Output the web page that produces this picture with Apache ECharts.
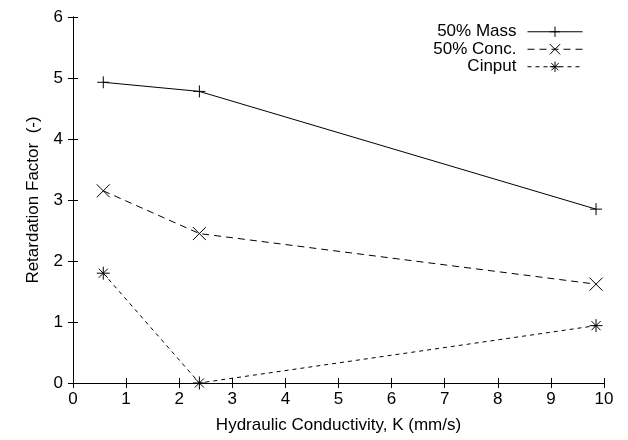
<!DOCTYPE html>
<html><head><meta charset="utf-8">
<script src="https://cdn.jsdelivr.net/npm/echarts@6/dist/echarts.min.js"></script>
<style>html,body{margin:0;padding:0;background:#fff}#c{width:628px;height:440px}</style>
</head><body><div id="c"></div>
<script>
const kValues = [0.57, 2.38, 9.85];
const massValues = [4.93, 4.78, 2.85];
const concValues = [3.15, 2.45, 1.62];
const cinputValues = [1.8, 0.0, 0.94];
const seriesNames = ['50% Mass', '50% Conc.', 'Cinput'];
const xTitle = 'Hydraulic Conductivity, K (mm/s)';
const yTitle = 'Retardation Factor  (-)';

const plusPath = 'path://M0,5L10,5M5,0L5,10';
const crossPath = 'path://M0,0L10,10M0,10L10,0';
const starPath = 'path://M0,5L10,5M5,0L5,10M1.5,1.5L8.5,8.5M1.5,8.5L8.5,1.5';

function pairs(ys){ return kValues.map((x,i)=>[x, ys[i]]); }
const font = 'Liberation Sans, Arial, sans-serif';
const fs = 17;

function mkSeries(name, ys, sym, size, dash){
  return {
    name, type:'line', data:pairs(ys), symbol:sym, symbolSize:size,
    lineStyle:{color:'#000', width:1, type:dash},
    itemStyle:{color:'none', borderColor:'#000', borderWidth:1},
    emphasis:{disabled:true}, animation:false
  };
}

const tick = {show:true, inside:true, length:5, lineStyle:{color:'#000', width:1}};
const chart = echarts.init(document.getElementById('c'), null, {renderer:'canvas'});
chart.setOption({
  backgroundColor:'#fff',
  animation:false,
  grid:{left:73, right:24, top:17, bottom:57},
  legend:{
    right:45, top:23, orient:'vertical', align:'right', padding:0,
    itemWidth:55, itemHeight:13, itemGap:0,
    lineStyle:{width:1},
    itemStyle:{borderWidth:1},
    textStyle:{fontFamily:font, fontSize:fs, color:'#000', lineHeight:17.5, padding:[0,6,0,0]},
    data:seriesNames
  },
  xAxis:[{
    type:'value', min:0, max:10, interval:1,
    name:xTitle, nameLocation:'middle', nameGap:34,
    nameTextStyle:{fontFamily:font, fontSize:fs, color:'#000'},
    axisLine:{lineStyle:{color:'#000', width:1}},
    axisTick:tick,
    axisLabel:{fontFamily:font, fontSize:fs, color:'#000', margin:8},
    splitLine:{show:false}
  },{
    type:'value', min:0, max:10, interval:1, position:'top',
    axisLine:{show:true, lineStyle:{color:'#000', width:1}},
    axisTick:tick,
    axisLabel:{show:false}, splitLine:{show:false}
  }],
  yAxis:[{
    type:'value', min:0, max:6, interval:1,
    name:yTitle, nameLocation:'middle', nameGap:31, nameRotate:90,
    nameTextStyle:{fontFamily:font, fontSize:fs, color:'#000'},
    axisLine:{show:true, lineStyle:{color:'#000', width:1}},
    axisTick:tick,
    axisLabel:{fontFamily:font, fontSize:fs, color:'#000', margin:10},
    splitLine:{show:false}
  },{
    type:'value', min:0, max:6, interval:1, position:'right',
    axisLine:{show:true, lineStyle:{color:'#000', width:1}},
    axisTick:tick,
    axisLabel:{show:false}, splitLine:{show:false}
  }],
  series:[
    mkSeries(seriesNames[0], massValues, plusPath, 12, 'solid'),
    mkSeries(seriesNames[1], concValues, crossPath, 13, [7,5]),
    mkSeries(seriesNames[2], cinputValues, starPath, 13, [4,4])
  ]
});
</script></body></html>
